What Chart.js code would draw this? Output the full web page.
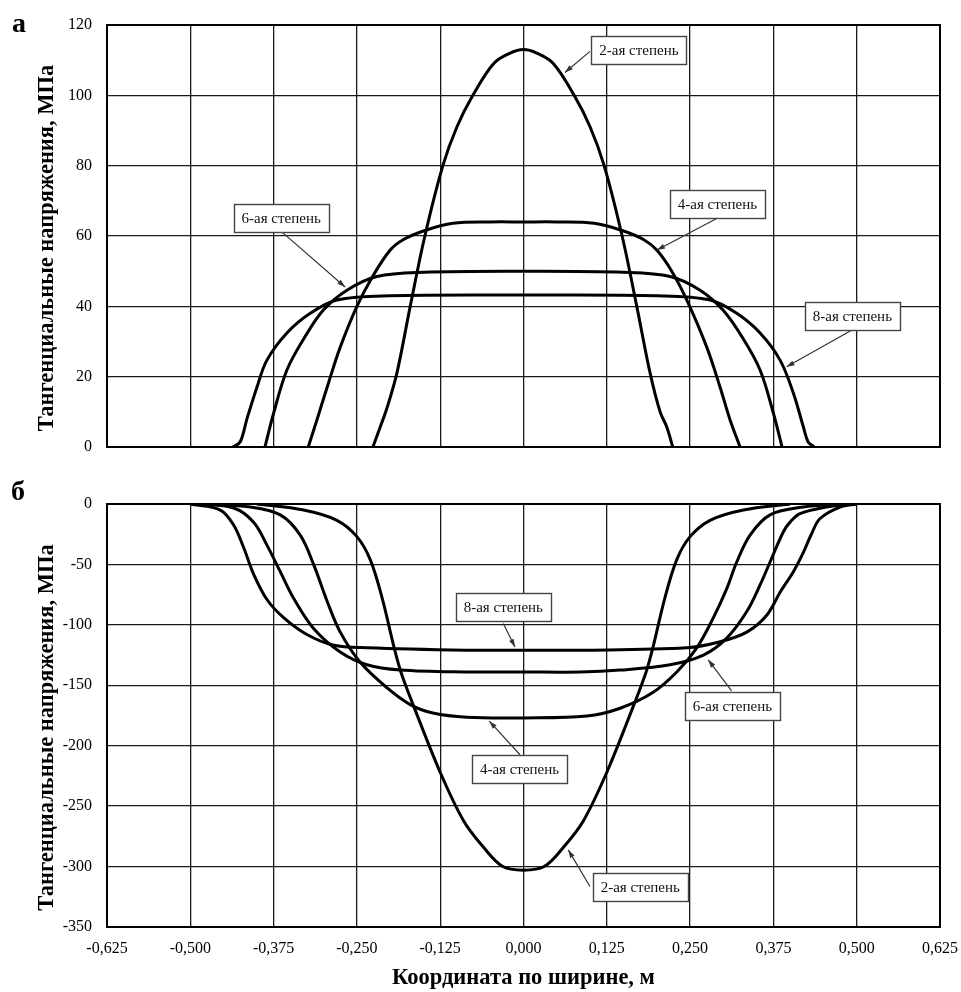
<!DOCTYPE html>
<html lang="ru">
<head>
<meta charset="utf-8">
<title>Тангенциальные напряжения</title>
<script src="https://cdn.jsdelivr.net/npm/chart.js@4"></script>
<style>
    body { margin: 0; background: #fff; }
    .wrap { position: relative; width: 961px; height: 992px; }
    canvas { position: absolute; left: 0; display: block; }
    #chartTop { top: 0; }
    #chartBottom { top: 470px; }
    .panel-tag { position: absolute; font: bold 28px 'Liberation Serif', serif; line-height: 1; color: #000; }
</style>
</head>
<body>
<div class="wrap">
    <canvas id="chartTop" width="961" height="470"></canvas>
    <canvas id="chartBottom" width="961" height="522"></canvas>
    <div class="panel-tag" style="left:12px; top:9px">а</div>
    <div class="panel-tag" style="left:11px; top:477px">б</div>
</div>
<script>
// ===== DATA =====
const xTicks = [-0.625, -0.5, -0.375, -0.25, -0.125, 0, 0.125, 0.25, 0.375, 0.5, 0.625];
const topYTicks = [0, 20, 40, 60, 80, 100, 120];
const bottomYTicks = [-350, -300, -250, -200, -150, -100, -50, 0];

// panel а — stretched side
const top2X = [-0.226, -0.215, -0.205, -0.19, -0.17, -0.148, -0.121, -0.1, -0.076, -0.045, -0.02, 0, 0.02, 0.045, 0.076, 0.1, 0.121, 0.148, 0.17, 0.19, 0.205, 0.215, 0.224];
const top2Y = [0, 5.7, 11, 21, 40, 60, 80, 91, 100, 109, 112, 113, 112, 109, 100, 91, 80, 60, 40, 21, 10, 5.7, 0];
const top4X = [-0.323, -0.31, -0.293, -0.275, -0.25, -0.227, -0.2, -0.18, -0.149, -0.106, -0.05, 0, 0.05, 0.106, 0.149, 0.18, 0.2, 0.224, 0.247, 0.275, 0.295, 0.31, 0.325];
const top4Y = [0, 7.7, 18, 28.4, 40, 48.3, 56, 59, 61.5, 63.6, 64, 64, 64, 63.6, 61.5, 59, 56, 49.5, 41, 28.4, 17, 7.7, 0];
const top6X = [-0.388, -0.375, -0.355, -0.329, -0.3, -0.265, -0.22, -0.15, 0, 0.15, 0.22, 0.265, 0.299, 0.329, 0.355, 0.375, 0.388];
const top6Y = [0, 9.6, 21.9, 31, 39, 44.6, 48.5, 49.7, 50, 49.7, 48.5, 44.6, 39, 31, 21.9, 9.6, 0];
const top8X = [-0.436, -0.425, -0.415, -0.4, -0.385, -0.355, -0.32, -0.28, -0.2, 0, 0.2, 0.28, 0.32, 0.355, 0.385, 0.405, 0.42, 0.427, 0.436];
const top8Y = [0, 1.5, 8, 17, 24.7, 32.4, 38, 41.8, 43, 43.2, 43, 41.8, 38, 32.4, 24.7, 15.3, 5.7, 1.5, 0];

// panel б — compressed side
const bot2X = [-0.4, -0.33, -0.28, -0.25, -0.23, -0.212, -0.195, -0.184, -0.165, -0.125, -0.09, -0.06, -0.031, 0, 0.031, 0.06, 0.09, 0.125, 0.165, 0.184, 0.195, 0.212, 0.23, 0.25, 0.28, 0.33, 0.4];
const bot2Y = [0, -5, -13.5, -27, -46, -78, -117, -139, -167, -222, -262, -284, -300, -303, -300, -284, -262, -222, -167, -139, -117, -78, -46, -27, -13.5, -5, 0];
const bot4X = [-0.48, -0.41, -0.365, -0.335, -0.315, -0.295, -0.275, -0.245, -0.205, -0.17, -0.136, -0.085, 0, 0.095, 0.145, 0.194, 0.23, 0.26, 0.285, 0.305, 0.32, 0.34, 0.37, 0.42, 0.48];
const bot4Y = [0, -2.5, -9, -25.7, -50, -80, -106, -131, -152, -166, -173, -176.5, -177, -175.5, -169, -156, -139, -119, -94, -70, -48, -25.7, -9, -2.5, 0];
const bot6X = [-0.49, -0.435, -0.405, -0.385, -0.365, -0.345, -0.315, -0.275, -0.235, -0.185, -0.085, 0, 0.085, 0.145, 0.22, 0.27, 0.305, 0.335, 0.355, 0.37, 0.39, 0.4, 0.415, 0.455, 0.49];
const bot6Y = [0, -3.3, -15, -34, -56, -78, -103, -122.5, -133, -137.4, -139, -139, -139, -137.4, -133, -125, -111, -89, -67, -48, -23, -15, -8, -2.5, 0];
const bot8X = [-0.5, -0.455, -0.435, -0.42, -0.405, -0.385, -0.36, -0.325, -0.286, -0.235, -0.085, 0, 0.085, 0.245, 0.295, 0.335, 0.365, 0.385, 0.405, 0.42, 0.432, 0.445, 0.475, 0.5];
const bot8Y = [0, -5, -17.4, -36, -58, -79, -94, -108, -116.7, -119, -121, -121, -121, -119, -114, -106, -92, -73, -56, -40, -25, -12, -2.5, 0];

// callouts: box centre, start of the leader on the box edge, arrow tip on the curve
const topNotes = [
    { text: '2-ая степень', box: [0.1732, 112.9], tail: [0.0997, 112.5], tip: [0.0622, 106.5] },
    { text: '4-ая степень', box: [0.291, 69.2], tail: [0.290, 65.0], tip: [0.2003, 56.0] },
    { text: '6-ая степень', box: [-0.3637, 65.2], tail: [-0.3622, 61.1], tip: [-0.2677, 45.5] },
    { text: '8-ая степень', box: [0.4935, 37.2], tail: [0.4923, 33.2], tip: [0.3948, 22.8] }
];
const bottomNotes = [
    { text: '8-ая степень', box: [-0.0303, -85.4], tail: [-0.0303, -98.8], tip: [-0.0128, -118.4] },
    { text: '6-ая степень', box: [0.3135, -166.8], tail: [0.3123, -154.6], tip: [0.2772, -128.9] },
    { text: '4-ая степень', box: [-0.006, -219], tail: [-0.0053, -207.5], tip: [-0.0513, -179.7] },
    { text: '2-ая степень', box: [0.1752, -317.2], tail: [0.0997, -316.5], tip: [0.0672, -286.2] }
];

const yTitle = 'Тангенциальные напряжения, МПа';
const xTitle = 'Координата по ширине, м';

// ===== STYLE HELPERS =====
const SERIF = "'Liberation Serif', 'Times New Roman', serif";
const tickFont = { family: SERIF, size: 16 };
const titleFont = { family: SERIF, size: 22.5, weight: 'bold' };
const gridStyle = { color: '#1a1a1a', lineWidth: 1.3, drawTicks: false };

function fmtX(v) {
    return v.toFixed(3).replace('.', ',');
}

function series(label, xs, ys) {
    return {
        label: label,
        data: xs.map((x, i) => ({ x: x, y: ys[i] })),
        showLine: true,
        borderColor: '#000',
        borderWidth: 3,
        pointRadius: 0,
        tension: 0.35,
        fill: false
    };
}

// frame around the plot area + vertical axis caption
const framePlugin = {
    id: 'frame',
    beforeDatasetsDraw(chart) {
        const { ctx, chartArea: a } = chart;
        ctx.save();
        ctx.strokeStyle = '#000';
        ctx.lineWidth = 2;
        ctx.strokeRect(a.left, a.top, a.right - a.left, a.bottom - a.top);

        // caption sits a little below the middle of the plot
        ctx.translate(47, (a.top + a.bottom) / 2 + 12);
        ctx.rotate(-Math.PI / 2);
        ctx.font = 'bold 22.5px ' + SERIF;
        ctx.fillStyle = '#000';
        ctx.textAlign = 'center';
        ctx.textBaseline = 'middle';
        ctx.fillText(yTitle, 0, 0);
        ctx.restore();
    }
};

// boxed labels with a thin arrow pointing at the curve
function makeCallouts(notes) {
    return {
        id: 'callouts',
        afterDatasetsDraw(chart) {
            const { ctx, scales: { x, y } } = chart;
            ctx.save();
            ctx.font = '15px ' + SERIF;
            notes.forEach(n => {
                const bx = x.getPixelForValue(n.box[0]), by = y.getPixelForValue(n.box[1]);
                const sx = x.getPixelForValue(n.tail[0]), sy = y.getPixelForValue(n.tail[1]);
                const hx = x.getPixelForValue(n.tip[0]), hy = y.getPixelForValue(n.tip[1]);

                ctx.strokeStyle = '#333';
                ctx.fillStyle = '#333';
                ctx.lineWidth = 1.2;
                ctx.beginPath();
                ctx.moveTo(sx, sy);
                ctx.lineTo(hx, hy);
                ctx.stroke();

                const ang = Math.atan2(hy - sy, hx - sx);
                const len = 8, half = 2.6;
                ctx.beginPath();
                ctx.moveTo(hx, hy);
                ctx.lineTo(hx - len * Math.cos(ang) + half * Math.sin(ang), hy - len * Math.sin(ang) - half * Math.cos(ang));
                ctx.lineTo(hx - len * Math.cos(ang) - half * Math.sin(ang), hy - len * Math.sin(ang) + half * Math.cos(ang));
                ctx.closePath();
                ctx.fill();

                const w = Math.round(ctx.measureText(n.text).width) + 16, h = 28;
                const left = Math.round(bx - w / 2), topY = Math.round(by - h / 2);
                ctx.fillStyle = '#fff';
                ctx.fillRect(left, topY, w, h);
                ctx.strokeStyle = '#444';
                ctx.lineWidth = 1.4;
                ctx.strokeRect(left + 0.5, topY + 0.5, w, h);
                ctx.fillStyle = '#111';
                ctx.textAlign = 'center';
                ctx.textBaseline = 'middle';
                ctx.fillText(n.text, bx, by + 1);
            });
            ctx.restore();
        }
    };
}

function xScale(withLabels) {
    return {
        type: 'linear',
        min: -0.625,
        max: 0.625,
        afterBuildTicks(scale) { scale.ticks = xTicks.map(v => ({ value: v })); },
        ticks: {
            display: withLabels,
            padding: 12,
            color: '#000',
            font: tickFont,
            autoSkip: false,
            maxRotation: 0,
            callback: v => fmtX(v)
        },
        grid: gridStyle,
        border: { display: false },
        title: {
            display: withLabels,
            text: xTitle,
            color: '#000',
            font: titleFont,
            padding: 0
        },
        afterFit(scale) {
            scale.height = withLabels ? 65 : 0;
            scale.paddingLeft = 0;
            scale.paddingRight = 0;
        }
    };
}

function yScale(min, max, tickValues) {
    return {
        type: 'linear',
        min: min,
        max: max,
        afterBuildTicks(scale) { scale.ticks = tickValues.map(v => ({ value: v })); },
        ticks: {
            padding: 15,
            color: '#000',
            font: tickFont,
            callback: v => String(v)
        },
        grid: gridStyle,
        border: { display: false },
        afterFit(scale) {
            scale.width = 107;
            scale.paddingTop = 0;
            scale.paddingBottom = 0;
        }
    };
}

function buildChart(canvasId, datasets, notes, yMin, yMax, yTickValues, withXLabels, padding) {
    return new Chart(document.getElementById(canvasId), {
        type: 'scatter',
        data: { datasets: datasets },
        options: {
            responsive: false,
            maintainAspectRatio: false,
            animation: false,
            layout: { padding: padding },
            plugins: {
                legend: { display: false },
                tooltip: { enabled: false }
            },
            scales: {
                x: xScale(withXLabels),
                y: yScale(yMin, yMax, yTickValues)
            }
        },
        plugins: [framePlugin, makeCallouts(notes)]
    });
}

// ===== CHARTS =====
buildChart('chartTop', [
    series('2-ая степень', top2X, top2Y),
    series('4-ая степень', top4X, top4Y),
    series('6-ая степень', top6X, top6Y),
    series('8-ая степень', top8X, top8Y)
], topNotes, 0, 120, topYTicks, false, { left: 0, top: 25, right: 21, bottom: 23 });

buildChart('chartBottom', [
    series('2-ая степень', bot2X, bot2Y),
    series('4-ая степень', bot4X, bot4Y),
    series('6-ая степень', bot6X, bot6Y),
    series('8-ая степень', bot8X, bot8Y)
], bottomNotes, -350, 0, bottomYTicks, true, { left: 0, top: 34, right: 21, bottom: 0 });
</script>
</body>
</html>
